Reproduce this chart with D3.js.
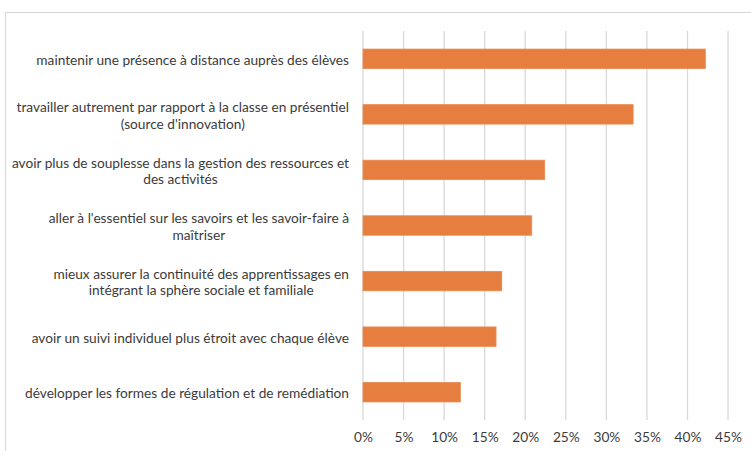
<!DOCTYPE html>
<html>
<head>
<meta charset="utf-8">
<script src="https://cdn.jsdelivr.net/npm/d3@7/dist/d3.min.js"></script>
<style>
  html, body { margin: 0; padding: 0; background: #fff; }
  svg { display: block; }
  text { font-family: Lato, "Open Sans", sans-serif; fill: #3b3b3b; }
</style>
</head>
<body>
<svg id="chart" width="751" height="451"></svg>
<script>
// Data
const categories = [
  ["maintenir une présence à distance auprès des élèves"],
  ["travailler autrement par rapport à la classe en présentiel", "(source d'innovation)"],
  ["avoir plus de souplesse dans la gestion des ressources et", "des activités"],
  ["aller à l'essentiel sur les savoirs et les savoir-faire à", "maîtriser"],
  ["mieux assurer la continuité des apprentissages en", "intégrant la sphère sociale et familiale"],
  ["avoir un suivi individuel plus étroit avec chaque élève"],
  ["développer les formes de régulation et de remédiation"]
];
const values = [0.422, 0.333, 0.224, 0.208, 0.171, 0.164, 0.120];
const tickValues = [0, 0.05, 0.10, 0.15, 0.20, 0.25, 0.30, 0.35, 0.40, 0.45];

const svg = d3.select("#chart");
const W = 751, H = 451;
const margin = { left: 363, right: 23, top: 31, bottom: 31 };

// Outer frame (partially visible border)
svg.append("rect")
  .attr("x", 5.5).attr("y", 12.5)
  .attr("width", W + 20).attr("height", H + 20)
  .attr("fill", "none").attr("stroke", "#d9d9d9").attr("stroke-width", 1.2);

const x = d3.scaleLinear().domain([0, 0.45]).range([margin.left, margin.left + 0.45 / 0.05 * 40.56]);
const y = d3.scaleBand().domain(d3.range(categories.length))
  .range([margin.top, H - margin.bottom]).paddingInner(0.65).paddingOuter(0.325);

// Gridlines
svg.append("g").selectAll("line").data(tickValues).join("line")
  .attr("x1", d => x(d)).attr("x2", d => x(d))
  .attr("y1", margin.top).attr("y2", H - margin.bottom)
  .attr("stroke", "#d9d9d9").attr("stroke-width", 1.3);

// Bars
svg.append("g").selectAll("rect").data(values).join("rect")
  .attr("x", x(0)).attr("y", (d, i) => y(i))
  .attr("width", d => x(d) - x(0)).attr("height", y.bandwidth())
  .attr("fill", "#e57e3e").attr("stroke", "#ea8a50").attr("stroke-width", 0.8);

// X axis tick labels
const xAxis = d3.axisBottom(x).tickValues(tickValues).tickFormat(d3.format(".0%")).tickSize(0).tickPadding(12);
const gx = svg.append("g").attr("transform", `translate(0,${H - margin.bottom})`).call(xAxis);
gx.select(".domain").remove();
gx.selectAll("text").style("font-family", "Lato, sans-serif").style("font-size", "13.7px").attr("fill", "#3b3b3b");

// Category labels (multi-line, centered block, right-aligned to axis)
const labelRight = 349;
const lineH = 16.5;
const lg = svg.append("g");
categories.forEach((lines, i) => {
  const cy = y(i) + y.bandwidth() / 2;
  const t = lg.append("text")
    .attr("font-size", "13.7px")
    .attr("text-anchor", "middle")
    .attr("dominant-baseline", "central");
  lines.forEach((ln, j) => {
    t.append("tspan").attr("y", cy + (j - (lines.length - 1) / 2) * lineH).text(ln);
  });
  let maxW = 0;
  t.selectAll("tspan").each(function () { maxW = Math.max(maxW, this.getComputedTextLength()); });
  t.selectAll("tspan").attr("x", labelRight - maxW / 2);
});
</script>
</body>
</html>
